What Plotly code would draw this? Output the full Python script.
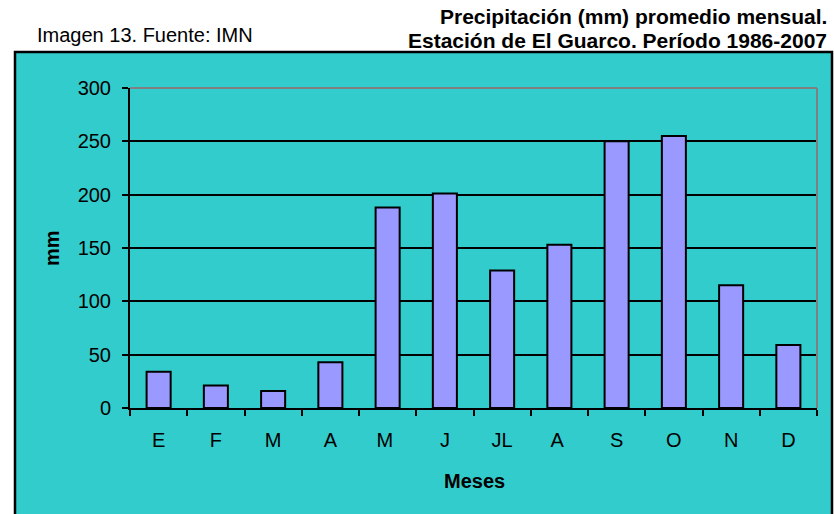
import plotly.graph_objects as go

months = ["E", "F", "M", "A", "M ", "J", "JL", "A ", "S", "O", "N", "D"]
rain_mm = [34, 21, 16, 43, 188, 201, 129, 153, 250, 255, 115, 59]
y_ticks = [0, 50, 100, 150, 200, 250, 300]

W, H = 834, 514
L, R, T, B = 130, 817, 88, 408


def px(x):
    return (x - L) / (R - L)


def py(y):
    return (B - y) / (B - T)


FONT = "Liberation Sans, Arial, sans-serif"

fig = go.Figure(
    go.Bar(
        x=months,
        y=rain_mm,
        width=0.42,
        marker=dict(color="#9999FF", line=dict(color="black", width=2)),
        hoverinfo="skip",
    )
)

fig.update_layout(
    width=W,
    height=H,
    margin=dict(l=L, r=W - R, t=T, b=H - B, pad=0),
    paper_bgcolor="white",
    plot_bgcolor="#CCFFFF",
    showlegend=False,
    font=dict(family=FONT, color="black", size=20),
)

fig.update_xaxes(
    type="category",
    tickson="boundaries",
    ticks="outside",
    ticklen=6,
    tickwidth=2,
    tickcolor="black",
    showline=True,
    linecolor="black",
    linewidth=2,
    showgrid=False,
    tickfont=dict(size=20),
    ticklabelstandoff=13,
    fixedrange=True,
)
fig.update_yaxes(
    range=[0, 300],
    tickvals=y_ticks,
    ticks="outside",
    ticklen=6,
    tickwidth=2,
    tickcolor="black",
    showline=True,
    linecolor="black",
    linewidth=2,
    showgrid=True,
    gridcolor="black",
    gridwidth=2,
    zeroline=False,
    tickfont=dict(size=20),
    ticklabelstandoff=7,
    fixedrange=True,
)

shapes = [
    dict(type="rect", xref="paper", yref="paper",
         x0=px(15), x1=px(832), y0=py(520), y1=py(52),
         fillcolor="#33CCCC", line=dict(color="black", width=2.5), layer="below"),
    dict(type="line", xref="paper", yref="paper", x0=0, x1=1, y0=1, y1=1,
         line=dict(color="#808080", width=2), layer="above"),
    dict(type="line", xref="paper", yref="paper", x0=1, x1=1, y0=0, y1=1,
         line=dict(color="#808080", width=2), layer="above"),
]
fig.update_layout(shapes=shapes)

annotations = [
    dict(text="<b>Precipitación (mm) promedio mensual.</b>", x=px(829), y=py(17),
         xanchor="right", yanchor="middle", font=dict(size=21)),
    dict(text="<b>Estación de El Guarco. Período 1986-2007</b>", x=px(829), y=py(41),
         xanchor="right", yanchor="middle", font=dict(size=21)),
    dict(text="Imagen 13. Fuente: IMN", x=px(35), y=py(35),
         xanchor="left", yanchor="middle", font=dict(size=20)),
    dict(text="<b>mm</b>", x=px(52), y=py(248), textangle=-90,
         xanchor="center", yanchor="middle", font=dict(size=20)),
    dict(text="<b>Meses</b>", x=px(474), y=py(481),
         xanchor="center", yanchor="middle", font=dict(size=20)),
]
for a in annotations:
    a.update(xref="paper", yref="paper", showarrow=False)
fig.update_layout(annotations=annotations)

fig.write_html(
    "out.html",
    config={"displayModeBar": False, "staticPlot": True},
    post_script="document.body.style.margin='0';document.body.style.overflow='hidden';",
)
